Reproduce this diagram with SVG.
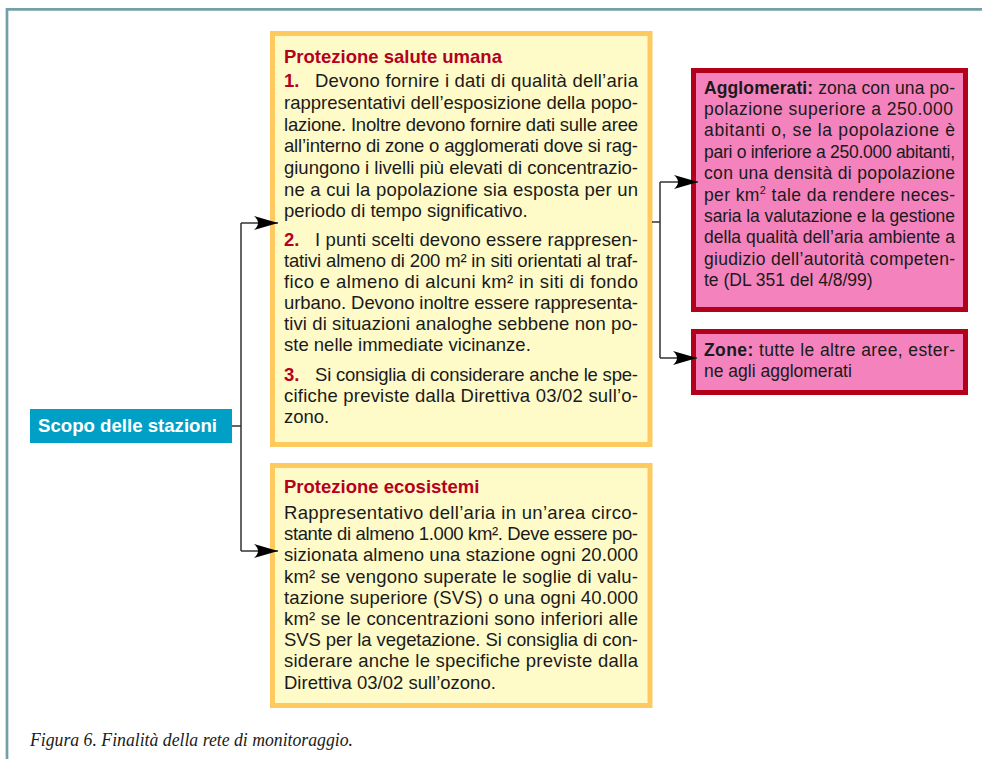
<svg xmlns="http://www.w3.org/2000/svg" width="982" height="759" viewBox="0 0 982 759">
<style>
.frame{fill:none;stroke:#72a0a6;stroke-width:2.7}
.yb{fill:#fffbc8;stroke:#fec95f;stroke-width:5}
.pb{fill:#f482bd;stroke:#b3001b;stroke-width:5}
.bb{fill:#00a0c6}
.t{font-family:"Liberation Sans",Arial,Helvetica,sans-serif;font-size:18.5px;fill:#1a1a1a}
.tp{font-family:"Liberation Sans",Arial,Helvetica,sans-serif;font-size:17.5px;fill:#1a1a1a}
.h{font-family:"Liberation Sans",Arial,Helvetica,sans-serif;font-size:18.5px;font-weight:bold;fill:#b5001e}
.b{font-weight:bold}
.lbl{font-family:"Liberation Sans",Arial,Helvetica,sans-serif;font-size:18.5px;font-weight:bold;fill:#ffffff}
.cap{font-family:"Liberation Serif","Times New Roman",serif;font-style:italic;font-size:19px;fill:#1a1a1a}
.c{fill:none;stroke:#333333;stroke-width:1.5}
</style>
<defs>
<marker id="ah" markerUnits="userSpaceOnUse" viewBox="-25 -7.5 26 15" refX="0" refY="0" markerWidth="26" markerHeight="15" orient="auto">
<path d="M0,0 L-24,-7 Q-16,0 -24,7 Z" fill="#000000"/>
</marker>
</defs>

<path class="frame" d="M7,759 V9.3 H982"/>

<g id="scopo">
<rect class="bb" x="30" y="409" width="202" height="34"/>
<text class="lbl" x="38" y="432" textLength="179" lengthAdjust="spacingAndGlyphs">Scopo delle stazioni</text>
</g>

<g id="salute">
<rect class="yb" x="272.5" y="33.5" width="377.5" height="411"/>
<text class="h" x="284" y="63">Protezione salute umana</text>
<text class="h" x="284" y="87">1.</text>
<text class="t" x="315" y="87" textLength="323" lengthAdjust="spacing">Devono fornire i dati di qualità dell’aria</text>
<text class="t" x="284" y="109" textLength="354" lengthAdjust="spacing">rappresentativi dell’esposizione della popo-</text>
<text class="t" x="284" y="131" textLength="354" lengthAdjust="spacing">lazione. Inoltre devono fornire dati sulle aree</text>
<text class="t" x="284" y="152" textLength="354" lengthAdjust="spacing">all’interno di zone o agglomerati dove si rag-</text>
<text class="t" x="284" y="174" textLength="354" lengthAdjust="spacing">giungono i livelli più elevati di concentrazio-</text>
<text class="t" x="284" y="196" textLength="354" lengthAdjust="spacing">ne a cui la popolazione sia esposta per un</text>
<text class="t" x="284" y="217">periodo di tempo significativo.</text>
<text class="h" x="284" y="246">2.</text>
<text class="t" x="315" y="246" textLength="323" lengthAdjust="spacing">I punti scelti devono essere rappresen-</text>
<text class="t" x="284" y="267" textLength="354" lengthAdjust="spacing">tativi almeno di 200 m² in siti orientati al traf-</text>
<text class="t" x="284" y="288" textLength="354" lengthAdjust="spacing">fico e almeno di alcuni km² in siti di fondo</text>
<text class="t" x="284" y="309" textLength="354" lengthAdjust="spacing">urbano. Devono inoltre essere rappresenta-</text>
<text class="t" x="284" y="330" textLength="354" lengthAdjust="spacing">tivi di situazioni analoghe sebbene non po-</text>
<text class="t" x="284" y="351">ste nelle immediate vicinanze.</text>
<text class="h" x="284" y="381">3.</text>
<text class="t" x="315" y="381" textLength="323" lengthAdjust="spacing">Si consiglia di considerare anche le spe-</text>
<text class="t" x="284" y="402" textLength="354" lengthAdjust="spacing">cifiche previste dalla Direttiva 03/02 sull’o-</text>
<text class="t" x="284" y="423">zono.</text>
</g>

<g id="ecosistemi">
<rect class="yb" x="272.5" y="465.5" width="377.5" height="240"/>
<text class="h" x="284" y="493">Protezione ecosistemi</text>
<text class="t" x="284" y="519" textLength="354" lengthAdjust="spacing">Rappresentativo dell’aria in un’area circo-</text>
<text class="t" x="284" y="540" textLength="354" lengthAdjust="spacing">stante di almeno 1.000 km². Deve essere po-</text>
<text class="t" x="284" y="561" textLength="354" lengthAdjust="spacing">sizionata almeno una stazione ogni 20.000</text>
<text class="t" x="284" y="583" textLength="354" lengthAdjust="spacing">km² se vengono superate le soglie di valu-</text>
<text class="t" x="284" y="604" textLength="354" lengthAdjust="spacing">tazione superiore (SVS) o una ogni 40.000</text>
<text class="t" x="284" y="625" textLength="354" lengthAdjust="spacing">km² se le concentrazioni sono inferiori alle</text>
<text class="t" x="284" y="646" textLength="354" lengthAdjust="spacing">SVS per la vegetazione. Si consiglia di con-</text>
<text class="t" x="284" y="667" textLength="354" lengthAdjust="spacing">siderare anche le specifiche previste dalla</text>
<text class="t" x="284" y="689">Direttiva 03/02 sull’ozono.</text>
</g>

<g id="agglomerati">
<rect class="pb" x="693.5" y="70.5" width="272" height="239"/>
<text class="tp" x="704" y="93.5" textLength="251" lengthAdjust="spacing"><tspan class="b">Agglomerati:</tspan> zona con una po-</text>
<text class="tp" x="704" y="115" textLength="249" lengthAdjust="spacing">polazione superiore a 250.000</text>
<text class="tp" x="704" y="136" textLength="251" lengthAdjust="spacing">abitanti o, se la popolazione è</text>
<text class="tp" x="704" y="158" textLength="251" lengthAdjust="spacing">pari o inferiore a 250.000 abitanti,</text>
<text class="tp" x="704" y="179" textLength="251" lengthAdjust="spacing">con una densità di popolazione</text>
<text class="tp" x="704" y="200.5" textLength="251" lengthAdjust="spacing">per km<tspan font-size="11" dy="-7">2</tspan><tspan dy="7"> tale da rendere neces-</tspan></text>
<text class="tp" x="704" y="222" textLength="251" lengthAdjust="spacing">saria la valutazione e la gestione</text>
<text class="tp" x="704" y="243" textLength="251" lengthAdjust="spacing">della qualità dell’aria ambiente a</text>
<text class="tp" x="704" y="265" textLength="251" lengthAdjust="spacing">giudizio dell’autorità competen-</text>
<text class="tp" x="704" y="286">te (DL 351 del 4/8/99)</text>
</g>

<g id="zone">
<rect class="pb" x="693.5" y="331.5" width="272" height="61"/>
<text class="tp" x="704" y="356" textLength="251" lengthAdjust="spacing"><tspan class="b">Zone:</tspan> tutte le altre aree, ester-</text>
<text class="tp" x="704" y="377">ne agli agglomerati</text>
</g>

<g id="connectors">
<path class="c" d="M232,426 H241 M241,223 V551"/>
<path class="c" d="M241,223 H278" marker-end="url(#ah)"/>
<path class="c" d="M241,551 H278" marker-end="url(#ah)"/>
<path class="c" d="M652,222 H660 M660,182 V358"/>
<path class="c" d="M660,182 H698" marker-end="url(#ah)"/>
<path class="c" d="M660,358 H697" marker-end="url(#ah)"/>
</g>

<text class="cap" x="30" y="746" textLength="323" lengthAdjust="spacingAndGlyphs">Figura 6. Finalità della rete di monitoraggio.</text>
</svg>
